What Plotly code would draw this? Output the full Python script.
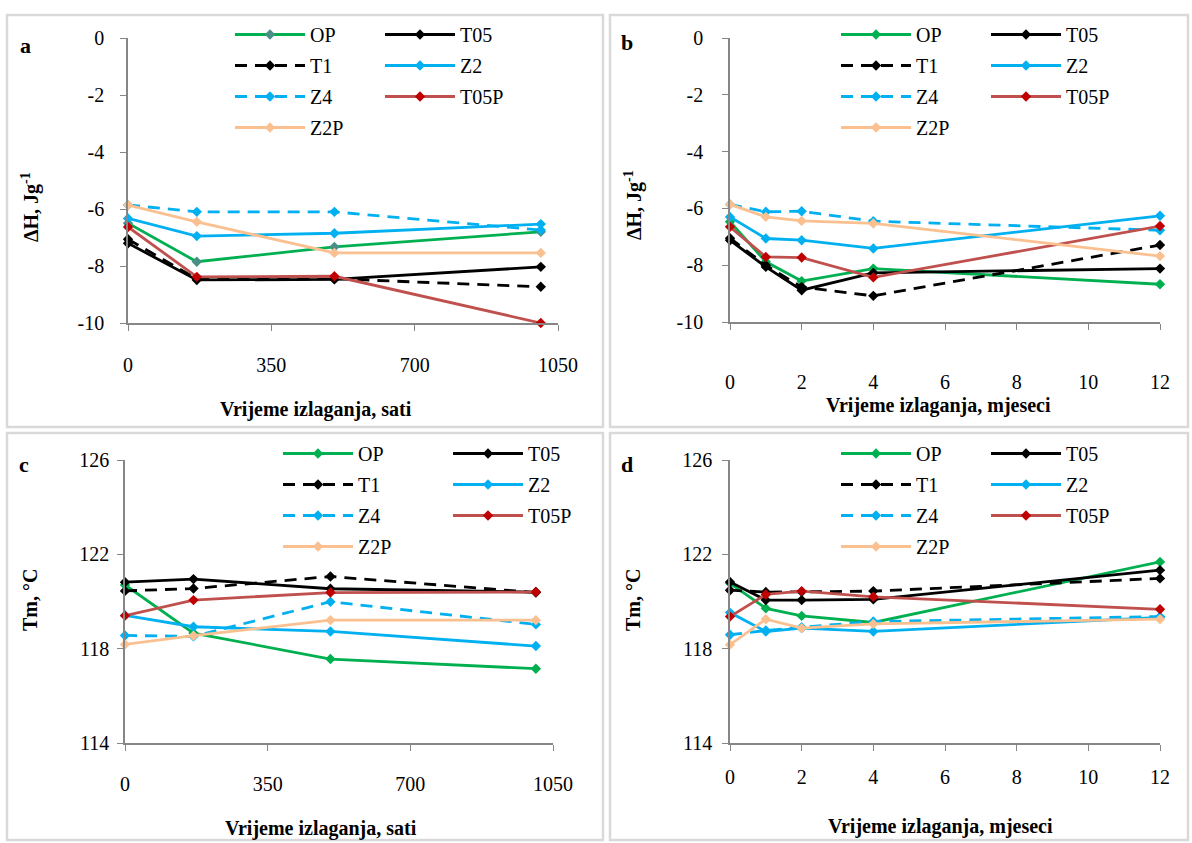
import plotly.graph_objects as go

W, H = 1192, 843

# exposure time
hours = [0, 168, 504, 1008]
months = [0, 1, 2, 4, 12]

series_names = ["OP", "T05", "T1", "Z2", "Z4", "T05P", "Z2P"]

# panel a: enthalpy vs hours
dh_hours = {
    "OP": [-6.5, -7.85, -7.33, -6.8],
    "T05": [-7.2, -8.49, -8.47, -8.03],
    "T1": [-7.06, -8.45, -8.45, -8.73],
    "Z2": [-6.33, -6.95, -6.85, -6.53],
    "Z4": [-5.86, -6.1, -6.1, -6.74],
    "T05P": [-6.63, -8.38, -8.36, -10.0],
    "Z2P": [-5.86, -6.45, -7.54, -7.54],
}
# panel b: enthalpy vs months
dh_months = {
    "OP": [-6.47, -7.88, -8.56, -8.12, -8.67],
    "T05": [-7.12, -8.06, -8.88, -8.27, -8.12],
    "T1": [-7.05, -8.0, -8.77, -9.08, -7.29],
    "Z2": [-6.3, -7.06, -7.12, -7.41, -6.26],
    "Z4": [-5.86, -6.12, -6.1, -6.45, -6.77],
    "T05P": [-6.65, -7.71, -7.73, -8.43, -6.62],
    "Z2P": [-5.86, -6.3, -6.44, -6.53, -7.68],
}
# panel c: melting temperature vs hours
tm_hours = {
    "OP": [120.7, 118.66, 117.56, 117.15],
    "T05": [120.82, 120.95, 120.54, 120.4],
    "T1": [120.45, 120.55, 121.06, 120.38],
    "Z2": [119.41, 118.93, 118.73, 118.11],
    "Z4": [118.56, 118.52, 119.99, 119.03],
    "T05P": [119.4, 120.06, 120.38, 120.4],
    "Z2P": [118.18, 118.55, 119.21, 119.21],
}
# panel d: melting temperature vs months
tm_months = {
    "OP": [120.77, 119.71, 119.39, 119.11, 121.68],
    "T05": [120.83, 120.06, 120.06, 120.09, 121.33],
    "T1": [120.48, 120.4, 120.41, 120.44, 120.98],
    "Z2": [119.53, 118.73, 118.87, 118.73, 119.33],
    "Z4": [118.59, 118.77, 118.91, 119.15, 119.36],
    "T05P": [119.36, 120.3, 120.44, 120.2, 119.67],
    "Z2P": [118.17, 119.25, 118.87, 119.05, 119.25],
}

# axis ticks
dh_ticks = [0, -2, -4, -6, -8, -10]
dh_ticktext = ["0", "-2", "-4", "-6", "-8", "-10"]
tm_ticks = [126, 122, 118, 114]
hour_ticks = [0, 350, 700, 1050]
month_ticks = [0, 2, 4, 6, 8, 10, 12]

line_col = {"OP": "#00b050", "T05": "#000000", "T1": "#000000", "Z2": "#00b0f0",
            "Z4": "#00b0f0", "T05P": "#c0504d", "Z2P": "#fac090"}
mark_col = {"OP": "#00b050", "T05": "#000000", "T1": "#000000", "Z2": "#00b0f0",
            "Z4": "#00b0f0", "T05P": "#c00000", "Z2P": "#fac090"}
dashed = {"T1", "Z4"}
col1 = ["OP", "T1", "Z4", "Z2P"]

SERIF = "Liberation Serif"
AXIS_GRAY = "#868686"

def px(x):
    return x / W

def py(y):
    return 1 - y / H

fig = go.Figure()

panels = [
    # key, data, xvals, x domain px, y domain px, legends, legend x px, legend top px
    ("a", dh_hours, hours, (128, 558), (323, 38), ("legend", "legend2"), (230, 380), 15),
    ("b", dh_months, months, (730, 1160), (322, 38), ("legend3", "legend4"), (836, 986), 15),
    ("c", tm_hours, hours, (125, 553), (743, 460), ("legend5", "legend6"), (278, 448), 434),
    ("d", tm_months, months, (730, 1160), (743, 460), ("legend7", "legend8"), (836, 986), 434),
]

for i, (key, data, xv, xd, yd, legs, legx, legy) in enumerate(panels):
    ax = "" if i == 0 else str(i + 1)
    for name in series_names:
        mc = mark_col[name]
        if key == "a" and name == "OP":
            mc = "#4a8f86"
        fig.add_trace(go.Scatter(
            x=xv, y=data[name], name=name, mode="lines+markers",
            xaxis="x" + ax, yaxis="y" + ax,
            line=dict(color=line_col[name], width=2.8,
                      dash="12px,8px" if name in dashed else "solid"),
            marker=dict(symbol="diamond", size=8, color=mc),
            cliponaxis=False,
            legend=legs[0] if name in col1 else legs[1],
            legendgroup=key + name,
        ))

layout = dict(
    width=W, height=H, margin=dict(l=0, r=0, t=0, b=0, autoexpand=False),
    paper_bgcolor="white", plot_bgcolor="white",
    font=dict(family=SERIF, size=20, color="#000000"),
    showlegend=True,
)

yranges = {"a": [-10, 0], "b": [-10, 0], "c": [114, 126], "d": [114, 126]}
xranges = {"a": [0, 1050], "b": [0, 12], "c": [0, 1050], "d": [0, 12]}
ystand = {"a": 12, "b": 15, "c": 4, "d": 6}
xstand = {"a": 17, "b": 35, "c": 16, "d": 9}

for i, (key, data, xv, xd, yd, legs, legx, legy) in enumerate(panels):
    ax = "" if i == 0 else str(i + 1)
    common = dict(showgrid=False, zeroline=False, showline=True, linecolor=AXIS_GRAY,
                  linewidth=1.5, ticks="outside", ticklen=6, tickcolor=AXIS_GRAY,
                  automargin=False,
                  tickfont=dict(family=SERIF, size=20, color="#000000"))
    xt = hour_ticks if key in ("a", "c") else month_ticks
    if key in ("a", "b"):
        yt, ytt = dh_ticks, dh_ticktext
    else:
        yt, ytt = tm_ticks, [str(v) for v in tm_ticks]
    layout["xaxis" + ax] = dict(common, domain=[px(xd[0]), px(xd[1])], range=xranges[key],
                                tickvals=xt, anchor="y" + ax,
                                ticklabelstandoff=xstand[key])
    layout["yaxis" + ax] = dict(common, domain=[py(yd[0]), py(yd[1])], range=yranges[key],
                                tickvals=yt, ticktext=ytt, anchor="x" + ax,
                                ticklabelstandoff=ystand[key])
    for j, lg in enumerate(legs):
        layout[lg] = dict(x=px(legx[j]), y=py(legy), xanchor="left", yanchor="top",
                          bgcolor="rgba(0,0,0,0)", borderwidth=0, itemwidth=70,
                          tracegroupgap=2, font=dict(family=SERIF, size=20),
                          traceorder="grouped")

fig.update_layout(**layout)

# panel frames
frames = [(7, 15, 603, 427), (610, 15, 1188, 427), (7, 433, 603, 840), (610, 433, 1188, 840)]
for x0, y0, x1, y1 in frames:
    fig.add_shape(type="rect", xref="paper", yref="paper",
                  x0=px(x0), x1=px(x1), y0=py(y1), y1=py(y0),
                  line=dict(color="#d9d9d9", width=2.5))

def note(text, x, y, size=20, angle=0):
    fig.add_annotation(text=text, x=px(x), y=py(y), xref="paper", yref="paper",
                       xanchor="center", yanchor="middle", showarrow=False,
                       textangle=angle, font=dict(family=SERIF, size=size))

# panel letters
for t, x, y in [("a", 25, 45), ("b", 627, 43), ("c", 24, 464), ("d", 627, 464)]:
    note("<b>%s</b>" % t, x, y, size=22)

# y axis titles
for t, x, y in [("ΔH, Jg<sup>-1</sup>", 30, 207), ("ΔH, Jg<sup>-1</sup>", 633, 205),
                ("Tm, °C", 30, 600), ("Tm, °C", 633, 600)]:
    note("<b>%s</b>" % t, x, y, angle=-90)

# x axis titles
for t, x, y in [("Vrijeme izlaganja, sati", 316, 409), ("Vrijeme izlaganja, mjeseci", 938, 405),
                ("Vrijeme izlaganja, sati", 321, 828), ("Vrijeme izlaganja, mjeseci", 940, 826)]:
    note("<b>%s</b>" % t, x, y)

# drop the page's default body margin so the figure sits at the window's corner
fig.write_html("out.html", config={"displayModeBar": False},
               post_script="document.body.style.margin='0';document.body.style.overflow='hidden';")
